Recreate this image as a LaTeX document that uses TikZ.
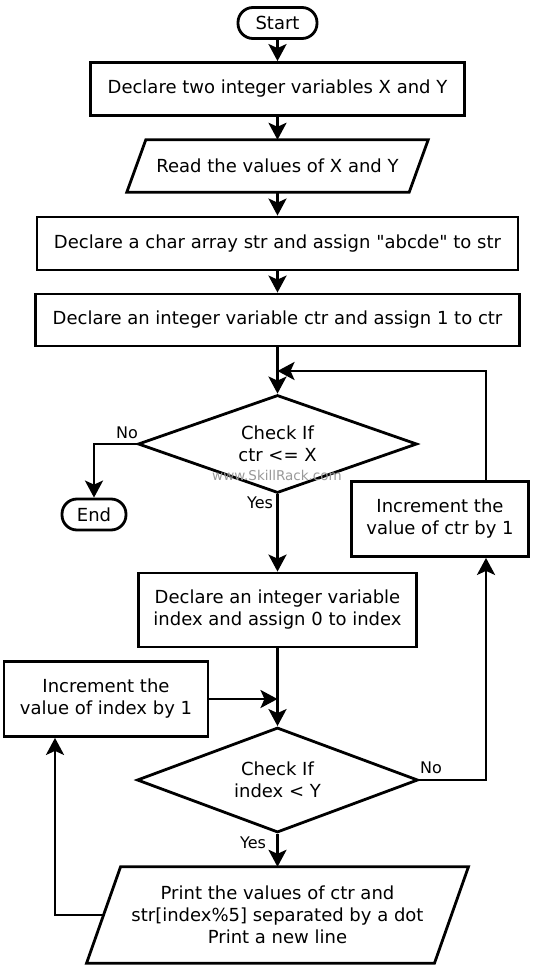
\documentclass[tikz,border=0pt]{standalone}
\usepackage{fontspec}
\setmainfont{DejaVu Sans}[Ligatures=TeXOff]
\usetikzlibrary{shapes.geometric,arrows.meta}
\begin{document}
\begin{tikzpicture}[x=1pt,y=-1pt,
  every node/.style={font=\fontsize{18}{22}\selectfont},
  line/.style={line width=2.8pt},
  arr/.style={line width=2.8pt,-{Stealth[length=17pt,width=18pt,inset=4pt]}},
  proc/.style={draw,line width=2.8pt,rectangle,align=center,inner sep=0pt},
  term/.style={draw,line width=2.8pt,rounded corners=15pt,inner sep=0pt,minimum height=31pt},
  decis/.style={draw,line width=2.8pt,diamond,aspect=2.8,inner sep=0pt,align=center},
  io/.style={align=center,inner sep=0pt},
  lbl/.style={font=\fontsize{16}{19}\selectfont,inner sep=0pt},
  wmark/.style={font=\fontsize{13.5}{16}\selectfont,text=black!40,inner sep=0pt},
]
\useasboundingbox (0,0) rectangle (535,973);

% nodes
\node[term,minimum width=79pt] (start) at (277.5,23) {Start};
\node[proc,minimum width=374pt,minimum height=53pt] (b1) at (277.5,89) {Declare two integer variables X and Y};
\node[io,minimum width=282pt,minimum height=52pt] (read) at (277.5,166) {Read the values of X and Y};
\draw[line] ([xshift=9.5pt]read.north west) -- ([xshift=9.5pt]read.north east) -- ([xshift=-9.5pt]read.south east) -- ([xshift=-9.5pt]read.south west) -- cycle;
\node[proc,minimum width=481pt,minimum height=53pt] (b3) at (277.5,243.5) {Declare a char array str and assign "abcde" to str};
\node[proc,minimum width=484pt,minimum height=52pt] (b4) at (277.5,320) {Declare an integer variable ctr and assign 1 to ctr};
\node[decis,minimum width=279pt,minimum height=98pt] (d1) at (277.5,444) {Check If\\ctr <= X};
\node[wmark] (wm) at (277,475) {www.SkillRack.com};
\node[lbl] (no1) at (127,433) {No};
\node[lbl] (yes1) at (260,503) {Yes};
\node[term,minimum width=64pt] (end) at (94,514.5) {End};
\node[proc,minimum width=177pt,minimum height=75pt] (ctr) at (440,519) {Increment the\\value of ctr by 1};
\node[proc,minimum width=278pt,minimum height=74pt] (b5) at (277.5,610) {Declare an integer variable\\index and assign 0 to index};
\node[proc,minimum width=204pt,minimum height=75pt] (inc) at (106,699) {Increment the\\value of index by 1};
\node[decis,minimum width=281pt,minimum height=105pt] (d2) at (277.5,780) {Check If\\index < Y};
\node[lbl] (no2) at (431,768) {No};
\node[lbl] (yes2) at (253,843) {Yes};
\node[io,minimum width=347.5pt,minimum height=96pt] (print) at (277.5,915) {Print the values of ctr and\\str[index\%5] separated by a dot\\Print a new line};
\draw[line] ([xshift=17pt]print.north west) -- ([xshift=17pt]print.north east) -- ([xshift=-17pt]print.south east) -- ([xshift=-17pt]print.south west) -- cycle;

% helper coordinates
\coordinate (j1) at (277.5,371);
\coordinate (rc) at (486,780);
\coordinate (lc) at (94,444);
\coordinate (j2) at (277.5,699);
\coordinate (lp) at (55,915);

% connectors
\draw[arr] (start.south) -- (b1.north);
\draw[arr] (b1.south) -- (read.north);
\draw[arr] (read.south) -- (b3.north);
\draw[arr] (b3.south) -- (b4.north);
\draw[arr] (b4.south) -- (d1.north);
\draw[arr] (d1.west) -- (lc) -- (end.north);
\draw[arr] (d1.south) -- (b5.north);
\draw[arr] (b5.south) -- (d2.north);
\draw[arr] (inc.east) -- (j2);
\draw[arr] (d2.south) -- (print.north);
\draw[arr] (print.west) -- (lp) -- (lp |- inc.south);
\draw[arr] (d2.east) -- (rc) -- (rc |- ctr.south);
\draw[arr] (rc |- ctr.north) -- (rc |- j1) -- (j1);
\end{tikzpicture}
\end{document}
